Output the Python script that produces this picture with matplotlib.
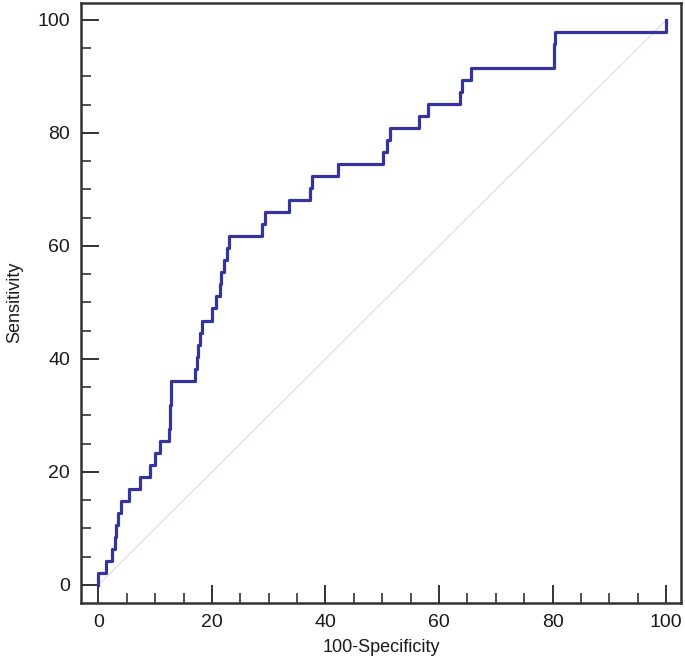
import numpy as np
import matplotlib.pyplot as plt
from matplotlib.ticker import MultipleLocator

plt.rcParams['font.family'] = ['Liberation Sans', 'DejaVu Sans']

# ROC corners: 100-specificity and number of detected positives (47 in total)
fpr = [0, 0, 1.4, 2.4, 3.0, 3.2, 3.5, 4.0, 5.4, 7.4, 9.1, 9.9, 10.8, 12.4,
       12.6, 12.7, 12.8, 12.8, 17.0, 17.3, 17.6, 17.9, 18.3, 20.0, 20.7, 21.4,
       21.6, 22.1, 22.6, 23.0, 28.9, 29.4, 33.6, 37.2, 37.6, 42.2, 50.2, 50.9,
       51.3, 56.5, 58.1, 63.7, 64.1, 65.7, 80.2, 80.2, 80.5, 100]
hits = list(range(48))
n_pos = 47
tpr = [100 * k / n_pos for k in hits]

fig = plt.figure(figsize=(6.85, 6.6), dpi=100)
ax = fig.add_axes([81 / 685, 1 - 602.5 / 660, 600 / 685, 599.5 / 660])

ax.plot([0, 100], [0, 100], color='#e8d8da', lw=0.8, zorder=1)
ax.plot(fpr, tpr, drawstyle='steps-post', color='#34349c', lw=2.3, zorder=2)

ax.set_xlim(-3.05, 102.6)
ax.set_ylim(-3.1, 103.0)
ax.xaxis.set_major_locator(MultipleLocator(20))
ax.xaxis.set_minor_locator(MultipleLocator(5))
ax.yaxis.set_major_locator(MultipleLocator(20))
ax.yaxis.set_minor_locator(MultipleLocator(5))
ax.tick_params(which='major', direction='in', length=13, width=1.4,
               color='#333333', labelsize=14, labelcolor='#1a1a1a', pad=8)
ax.tick_params(which='minor', direction='in', length=7, width=1.2, color='#333333')

for s in ax.spines.values():
    s.set_linewidth(1.8)
    s.set_color('#333333')

ax.set_xlabel('100-Specificity', fontsize=13, color='#1a1a1a', labelpad=6)
ax.set_ylabel('Sensitivity', fontsize=13, color='#1a1a1a', labelpad=10)

fig.savefig('out.png', dpi=100)
